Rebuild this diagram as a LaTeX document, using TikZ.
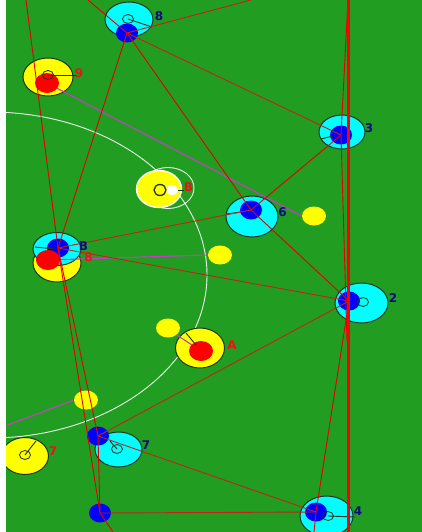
\documentclass[tikz,border=0pt]{standalone}
\usepackage{fontspec}
\setmainfont{DejaVu Sans}
\usetikzlibrary{shapes.geometric}
\definecolor{field}{RGB}{33,158,33}
\definecolor{cyanp}{RGB}{0,255,255}
\definecolor{yellowp}{RGB}{255,255,0}
\definecolor{blueb}{RGB}{0,0,255}
\definecolor{redb}{RGB}{255,0,0}
\definecolor{navyl}{RGB}{10,10,130}
\definecolor{labred}{RGB}{235,20,20}
\definecolor{passred}{RGB}{228,0,0}
\definecolor{passdark}{RGB}{195,35,20}
\definecolor{magl}{RGB}{200,60,200}
\definecolor{edgec}{RGB}{25,55,35}
\begin{document}
\begin{tikzpicture}[x=1pt,y=-1pt,
  cyanplayer/.style={ellipse,draw=edgec,line width=1pt,fill=cyanp,inner sep=0pt,minimum width=50pt,minimum height=36pt},
  yellowplayer/.style={ellipse,draw=edgec,line width=1pt,fill=yellowp,inner sep=0pt,minimum width=50pt,minimum height=38pt},
  smallyellow/.style={ellipse,fill=yellowp,inner sep=0pt,minimum width=24pt,minimum height=19pt},
  blueblob/.style={ellipse,fill=blueb,inner sep=0pt,minimum width=22pt,minimum height=19pt},
  redblob/.style={ellipse,fill=redb,inner sep=0pt,minimum width=24pt,minimum height=20pt},
  ring/.style={ellipse,draw=edgec,line width=0.8pt,inner sep=0pt,minimum width=11pt,minimum height=9pt},
  pointer/.style={draw=edgec,line width=0.9pt},
  pass/.style={draw=passred,line width=0.9pt},
  passd/.style={draw=passdark,line width=0.9pt},
  magline/.style={draw=magl,line width=1.1pt},
  navylab/.style={text=navyl,font=\fontsize{12}{12}\selectfont\bfseries,inner sep=0pt},
  redlab/.style={text=labred,font=\fontsize{12}{12}\selectfont\bfseries,inner sep=0pt}
]
\useasboundingbox (0,0) rectangle (422,532);
\fill[white] (0,0) rectangle (422,532);
\fill[field] (6,0) rectangle (422,532);
\begin{scope}
\clip (6,0) rectangle (422,532);
% free ends
\coordinate (t1) at (88,0);
\coordinate (t2) at (251,0);
\coordinate (t3) at (26,0);
\coordinate (t4) at (348,0);
\coordinate (e1) at (347,341);
\coordinate (e2) at (314,532);
\coordinate (e3) at (113,532);
\coordinate (e4) at (0,428);
\coordinate (thickTop) at (348,0);
\coordinate (thickBot) at (348,532);
% white arc
\draw[white,opacity=0.9,line width=0.9pt] (-10,275) ellipse [x radius=217pt,y radius=163pt];
% ball outer ring
\node[ellipse,draw=white,opacity=0.9,line width=0.9pt,inner sep=0pt,minimum width=52pt,minimum height=41pt] (ballring) at (168,188) {};
% players
\node[yellowplayer] (py9) at (48,77) {};
\node[yellowplayer,minimum width=48pt,minimum height=38pt] (pyB) at (57,263) {};
\node[cyanplayer,minimum width=48pt,minimum height=33pt] (pcB) at (57,249) {};
\node[cyanplayer,minimum width=48pt,minimum height=35pt] (pc8) at (129,19.5) {};
\node[cyanplayer,minimum width=46pt,minimum height=34pt] (pc3) at (342,132) {};
\node[cyanplayer,minimum width=52pt,minimum height=41pt] (pc6) at (252,216.5) {};
\node[cyanplayer,minimum width=53pt,minimum height=40pt] (pc2) at (361.5,303) {};
\node[cyanplayer,minimum width=47pt,minimum height=35pt] (pc7) at (118.5,449.5) {};
\node[cyanplayer,minimum width=53pt,minimum height=40pt] (pc4) at (326.5,516) {};
\node[yellowplayer,minimum width=49pt,minimum height=40pt] (pyA) at (200,348) {};
\node[yellowplayer,minimum width=47pt,minimum height=37pt] (py7) at (25,456) {};
\node[ellipse,draw=white,line width=1.4pt,fill=yellowp,inner sep=0pt,minimum width=45pt,minimum height=37pt] (pyBall) at (159,189) {};
% magenta lines
\coordinate (m9) at (47,83);
\coordinate (mB) at (48,260);
\coordinate (mA) at (201,351);
\node[smallyellow] (sy1) at (314,216) {};
\node[smallyellow] (sy2) at (220,255) {};
\node[smallyellow] (sy3) at (168,328) {};
\node[smallyellow] (sy4) at (86,400) {};
\draw[magline] (m9) -- (sy1.west);
\draw[magline] (mB) -- (sy2.west);
\draw[magline] (mA) -- (sy3.south east);
\draw[magline] (e4) -- (sy4.west);
% blobs
\node[blueblob] (b8) at (127,33) {};
\node[blueblob] (b3) at (341,135) {};
\node[blueblob] (b6) at (251,210) {};
\node[blueblob] (b2) at (349,301) {};
\node[blueblob] (bB) at (58,248) {};
\node[blueblob] (b7) at (98,436) {};
\node[blueblob] (bX) at (100,513) {};
\node[blueblob] (b4) at (316,512) {};
\node[redblob] (r9) at (m9) {};
\node[redblob] (rB) at (mB) {};
\node[redblob] (rA) at (mA) {};
\node[ellipse,fill=white,inner sep=0pt,minimum width=12pt,minimum height=10pt] (wb) at (172,190) {};
% rings and pointers
\node[ring] (g8) at (128,19) {};
\node[ring] (g9) at (48,75) {};
\node[ring] (g2) at (363,302) {};
\node[ring] (g7) at (117,449) {};
\node[ring] (g4) at (328,516) {};
\node[ring] (g7y) at (25,455) {};
\node[ring,line width=1.3pt,minimum width=12pt,minimum height=11pt] (gball) at (160,190) {};
\coordinate (d8) at (152,27);
\coordinate (d9) at (77,75);
\coordinate (dB1) at (35,247);
\coordinate (dB2) at (55,249);
\coordinate (d31) at (321,139);
\coordinate (d32) at (333,136);
\coordinate (d61) at (226,214);
\coordinate (d62) at (241,212);
\coordinate (dA1) at (186,333);
\coordinate (dA2) at (196,345);
\coordinate (d7y) at (36,441);
\coordinate (d4) at (355,517);
\coordinate (d7) at (110,441);
\coordinate (dball) at (184,190);
\draw[pointer] (g8.center) -- (d8);
\draw[pointer] (g9.center) -- (d9);
\draw[pointer] (dB1) -- (dB2);
\draw[pointer] (d31) -- (d32);
\draw[pointer] (d61) -- (d62);
\draw[pointer] (dA1) -- (dA2);
\draw[pointer] (g7y.center) -- (d7y);
\draw[pointer] (g4.center) -- (d4);
\draw[pointer] (g7.center) -- (d7);
\draw[pointer] (wb.east) -- (dball);
% red pass lines
\draw[pass] (t1) -- (b8.center);
\draw[passd] (b8.center) -- (t2);
\draw[passd] (b8.center) -- (b3.center);
\draw[pass] (b8.center) -- (b6.center);
\draw[pass] (b8.center) -- (bB.center);
\draw[pass] (t3) -- (bB.center);
\draw[passd] (bB.center) -- (b6.center);
\draw[passd] (bB.center) -- (b2.center);
\draw[pass] (bB.center) -- (b7.center);
\draw[pass] (bB.center) -- (bX.center);
\draw[pass] (b6.center) -- (b3.center);
\draw[pass] (b6.center) -- (b2.center);
\draw[pass] (t4) -- (b3.center);
\draw[pass] (b3.center) -- (e1);
\draw[pass] (b2.center) -- (b4.center);
\draw[pass] (b4.center) -- (e2);
\draw[passd] (b7.center) -- (b2.center);
\draw[passd] (b7.center) -- (b4.center);
\draw[pass] (b7.center) -- (bX.center);
\draw[passd] (bX.center) -- (b4.center);
\draw[pass] (bX.center) -- (e3);
\draw[draw=redb,line width=3pt] (thickTop) -- (thickBot);
\end{scope}
% labels
\node[navylab] (l8) at (159,16) {8};
\node[redlab] (l9) at (79,73) {9};
\node[navylab] (l3) at (369,128) {3};
\node[navylab] (l6) at (282.5,212.5) {6};
\node[navylab] (lB) at (83.5,246.5) {B};
\node[redlab] (lB8) at (88.5,257.5) {8};
\node[redlab] (lBall) at (188.5,187) {B};
\node[navylab] (l2) at (393,298.5) {2};
\node[redlab] (lA) at (232,345) {A};
\node[redlab] (l7y) at (53,451.5) {7};
\node[navylab] (l7) at (146,445.5) {7};
\node[navylab] (l4) at (358,511.5) {4};
\end{tikzpicture}
\end{document}
